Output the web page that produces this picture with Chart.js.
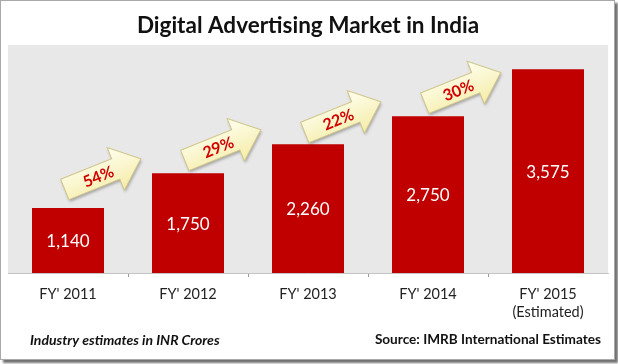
<!DOCTYPE html>
<html>
<head>
<meta charset="utf-8">
<script src="https://cdn.jsdelivr.net/npm/chart.js@4.4.1/dist/chart.umd.min.js"></script>
<style>
    body { margin: 0; background: #fff; }
    .frame {
        position: absolute; left: 0; top: 0;
        width: 615px; height: 360px; box-sizing: border-box;
        border: 1px solid #a9a9a9; background: #fff;
        box-shadow: 3px 3px 2px rgba(0, 0, 0, 0.55);
    }
    #chart { position: absolute; left: 0; top: 0; }
</style>
</head>
<body>
<div class="frame"></div>
<canvas id="chart" width="618" height="364"></canvas>
<script>
const categories = ["FY' 2011", "FY' 2012", "FY' 2013", "FY' 2014", ["FY' 2015", "(Estimated)"]];
const marketValues = [1140, 1750, 2260, 2750, 3575];
const growthLabels = ["54%", "29%", "22%", "30%"];

const FONT = "Lato, 'Open Sans', sans-serif";

// grey plot background
const plotBackground = {
    id: 'plotBackground',
    beforeDraw(chart) {
        const { ctx, chartArea: a } = chart;
        ctx.save();
        ctx.fillStyle = '#e9e8e8';
        ctx.fillRect(a.left, a.top, a.right - a.left, a.bottom - a.top);
        ctx.restore();
    }
};

// white numbers inside the bars
const barValues = {
    id: 'barValues',
    afterDatasetsDraw(chart) {
        const ctx = chart.ctx;
        const meta = chart.getDatasetMeta(0);
        ctx.save();
        ctx.fillStyle = '#ffffff';
        ctx.font = '17px ' + FONT;
        ctx.textAlign = 'center';
        ctx.textBaseline = 'middle';
        meta.data.forEach((bar, i) => {
            ctx.fillText(marketValues[i].toLocaleString('en-US'), bar.x, (bar.y + bar.base) / 2 + 1);
        });
        ctx.restore();
    }
};

// yellow growth arrows between bars
const growthArrows = {
    id: 'growthArrows',
    afterDatasetsDraw(chart) {
        const ctx = chart.ctx;
        const meta = chart.getDatasetMeta(0);
        const y = chart.scales.y;
        const area = chart.chartArea;
        growthLabels.forEach((label, i) => {
            const cx = (meta.data[i].x + meta.data[i + 1].x) / 2 - 28;
            const cy = Math.max(y.getPixelForValue(marketValues[i + 1]) + 2, area.top + 44);
            ctx.save();
            ctx.translate(cx, cy);
            ctx.rotate(-22 * Math.PI / 180);

            ctx.beginPath();
            ctx.moveTo(-38, -11);
            ctx.lineTo(17, -11);
            ctx.lineTo(17, -23);
            ctx.lineTo(44, 0);
            ctx.lineTo(17, 23);
            ctx.lineTo(17, 11);
            ctx.lineTo(-38, 11);
            ctx.closePath();

            const grad = ctx.createLinearGradient(0, -23, 0, 23);
            grad.addColorStop(0, '#fffff0');
            grad.addColorStop(1, '#f5eca8');
            ctx.shadowColor = 'rgba(0, 0, 0, 0.3)';
            ctx.shadowBlur = 3;
            ctx.shadowOffsetX = 1;
            ctx.shadowOffsetY = 2;
            ctx.fillStyle = grad;
            ctx.fill();
            ctx.shadowColor = 'transparent';
            ctx.strokeStyle = '#d0c68a';
            ctx.lineWidth = 1;
            ctx.stroke();

            ctx.fillStyle = '#d20000';
            ctx.font = 'bold 16px ' + FONT;
            ctx.textAlign = 'center';
            ctx.textBaseline = 'middle';
            ctx.fillText(label, -2, 1);
            ctx.restore();
        });
    }
};

// footer notes
const footer = {
    id: 'footer',
    afterDraw(chart) {
        const ctx = chart.ctx;
        ctx.save();
        ctx.fillStyle = '#111';
        ctx.textBaseline = 'middle';
        ctx.font = 'italic bold 14px ' + FONT;
        ctx.textAlign = 'left';
        ctx.fillText('Industry estimates in INR Crores', 30, 340);
        ctx.font = 'bold 13.6px ' + FONT;
        ctx.textAlign = 'right';
        ctx.fillText('Source: IMRB International Estimates', 601, 340);
        ctx.restore();
    }
};

new Chart(document.getElementById('chart'), {
    type: 'bar',
    data: {
        labels: categories,
        datasets: [{
            data: marketValues,
            backgroundColor: '#c00000',
            categoryPercentage: 1,
            barPercentage: 0.6
        }]
    },
    options: {
        responsive: false,
        animation: false,
        layout: { padding: { left: 8, right: 10, top: 3, bottom: 0 } },
        plugins: {
            legend: { display: false },
            tooltip: { enabled: false },
            title: {
                display: true,
                text: 'Digital Advertising Market in India',
                color: '#111',
                font: { family: FONT, size: 22.5, weight: 'bold', lineHeight: 1.2 },
                padding: { top: 9, bottom: 6 }
            }
        },
        scales: {
            x: {
                offset: true,
                grid: {
                    offset: true,
                    drawOnChartArea: false,
                    drawTicks: true,
                    tickLength: 4,
                    color: ctx => (ctx.index > 0 ? '#9a9a9a' : 'transparent')
                },
                border: { display: true, color: '#c4c4c4' },
                ticks: {
                    color: '#222',
                    padding: 8,
                    maxRotation: 0,
                    font: { family: FONT, size: 14.5, lineHeight: 1.25 }
                },
                afterFit: s => { s.height = 91; }
            },
            y: {
                display: false,
                min: 0,
                max: 4000
            }
        }
    },
    plugins: [plotBackground, barValues, growthArrows, footer]
});
</script>
</body>
</html>
